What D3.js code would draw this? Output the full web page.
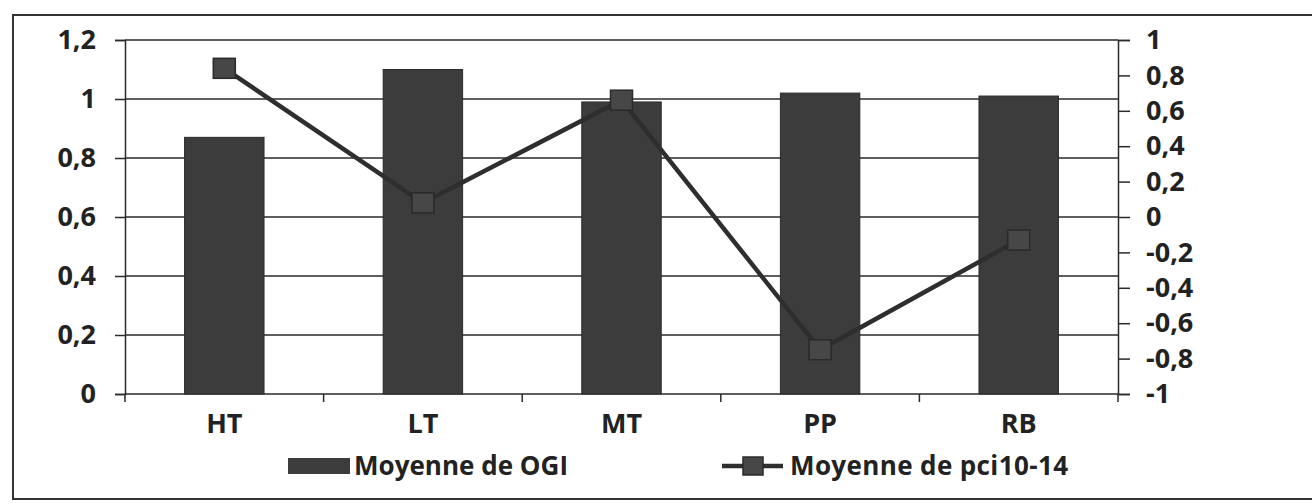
<!DOCTYPE html>
<html>
<head>
<meta charset="utf-8">
<script src="https://cdn.jsdelivr.net/npm/d3@7"></script>
<style>
  body { margin: 0; background: #fff; }
  text { font-family: "Open Sans", sans-serif; font-weight: bold; fill: #222; }
</style>
</head>
<body>
<div class="chart"></div>
<script>
// data
var categories = ["HT", "LT", "MT", "PP", "RB"];
var ogi = [0.87, 1.10, 0.99, 1.02, 1.01];
var pci = [0.84, 0.08, 0.66, -0.75, -0.13];
var leftTicks = [0, 0.2, 0.4, 0.6, 0.8, 1.0, 1.2];
var rightTicks = [-1, -0.8, -0.6, -0.4, -0.2, 0, 0.2, 0.4, 0.6, 0.8, 1];
var legendLabels = ["Moyenne de OGI", "Moyenne de pci10-14"];

var width = 1312, height = 504;
var plot = {left: 125, right: 1118, top: 40, bottom: 394};
var barColor = "#3c3c3c", lineColor = "#2e2e2e", gridColor = "#2a2a2a";

var fr = d3.formatLocale({decimal: ",", thousands: " ", grouping: [3], currency: ["", "€"], minus: "-"});
var fmt = fr.format("~g");

var svg = d3.select(".chart")
  .append("svg")
    .attr("width", width)
    .attr("height", height);

svg.append("rect")
  .attr("width", width).attr("height", height)
  .attr("fill", "#fff");

// outer frame (right edge falls outside the picture)
svg.append("rect")
  .attr("x", 13).attr("y", 15)
  .attr("width", 1320).attr("height", 484)
  .attr("fill", "none")
  .attr("stroke", "#333")
  .attr("stroke-width", 2);

var x = d3.scaleBand()
  .domain(categories)
  .range([plot.left, plot.right])
  .paddingInner(0.6)
  .paddingOuter(0.3);

var yL = d3.scaleLinear().domain([0, 1.2]).range([plot.bottom, plot.top]);
var yR = d3.scaleLinear().domain([-1, 1]).range([plot.bottom, plot.top]);

// gridlines
svg.selectAll(".grid")
  .data(leftTicks)
  .enter().append("line")
    .attr("class", "grid")
    .attr("x1", plot.left).attr("x2", plot.right)
    .attr("y1", function(d) { return yL(d); })
    .attr("y2", function(d) { return yL(d); })
    .style("stroke", gridColor)
    .style("stroke-width", 1.5);

// bars
svg.selectAll(".bar")
  .data(ogi)
  .enter().append("rect")
    .attr("class", "bar")
    .attr("x", function(d, i) { return x(categories[i]); })
    .attr("width", x.bandwidth())
    .attr("y", function(d) { return yL(d); })
    .attr("height", function(d) { return yL(0) - yL(d); })
    .style("fill", barColor)
    .style("stroke", "#2a2a2a")
    .style("stroke-width", 1);

// left axis
var leftAxis = svg.append("g")
  .attr("transform", "translate(" + plot.left + ",0)")
  .call(d3.axisLeft(yL).tickValues(leftTicks).tickSize(10).tickPadding(19).tickFormat(fmt));

// right axis
var rightAxis = svg.append("g")
  .attr("transform", "translate(" + plot.right + ",0)")
  .call(d3.axisRight(yR).tickValues(rightTicks).tickSize(12).tickPadding(16).tickFormat(fmt));

[leftAxis, rightAxis].forEach(function(g) {
  g.select(".domain").style("stroke", gridColor).style("stroke-width", 1.5);
  g.selectAll(".tick line").style("stroke", gridColor).style("stroke-width", 1.5);
  g.selectAll(".tick text")
    .style("font-size", "27px")
    .style("font-family", "Open Sans")
    .style("font-weight", "bold")
    .style("fill", "#222");
});

// category axis: boundary ticks and labels
var bounds = d3.range(categories.length + 1).map(function(i) { return plot.left + i * x.step(); });
svg.selectAll(".xtick")
  .data(bounds)
  .enter().append("line")
    .attr("class", "xtick")
    .attr("x1", function(d) { return d; }).attr("x2", function(d) { return d; })
    .attr("y1", plot.bottom).attr("y2", plot.bottom + 8)
    .style("stroke", gridColor)
    .style("stroke-width", 1.5);

svg.selectAll(".xlabel")
  .data(categories)
  .enter().append("text")
    .attr("class", "xlabel")
    .attr("x", function(d) { return x(d) + x.bandwidth() / 2; })
    .attr("y", plot.bottom + 39)
    .style("text-anchor", "middle")
    .style("font-size", "27px")
    .text(function(d) { return d; });

// line series on right axis
var line = d3.line()
  .x(function(d, i) { return x(categories[i]) + x.bandwidth() / 2; })
  .y(function(d) { return yR(d); });

svg.append("path")
  .datum(pci)
  .attr("d", line)
  .style("fill", "none")
  .style("stroke", lineColor)
  .style("stroke-width", 4.5);

svg.selectAll(".marker")
  .data(pci)
  .enter().append("rect")
    .attr("class", "marker")
    .attr("x", function(d, i) { return x(categories[i]) + x.bandwidth() / 2 - 11; })
    .attr("y", function(d) { return yR(d) - 10; })
    .attr("width", 22).attr("height", 20)
    .style("fill", "#474747")
    .style("stroke", "#2a2a2a")
    .style("stroke-width", 1.5);

// legend
var legendY = 466;
svg.append("rect")
  .attr("x", 288).attr("y", legendY - 8)
  .attr("width", 62).attr("height", 16)
  .style("fill", barColor);

svg.append("text")
  .attr("x", 354).attr("y", legendY + 9)
  .attr("textLength", 214)
  .attr("lengthAdjust", "spacing")
  .style("font-size", "26px")
  .text(legendLabels[0]);

svg.append("line")
  .attr("x1", 722).attr("x2", 783)
  .attr("y1", legendY).attr("y2", legendY)
  .style("stroke", lineColor)
  .style("stroke-width", 4.5);

svg.append("rect")
  .attr("x", 743).attr("y", legendY - 9)
  .attr("width", 20).attr("height", 18)
  .style("fill", "#474747")
  .style("stroke", "#2a2a2a")
  .style("stroke-width", 1.5);

svg.append("text")
  .attr("x", 790).attr("y", legendY + 9)
  .attr("textLength", 278)
  .attr("lengthAdjust", "spacing")
  .style("font-size", "26px")
  .text(legendLabels[1]);
</script>
</body>
</html>
